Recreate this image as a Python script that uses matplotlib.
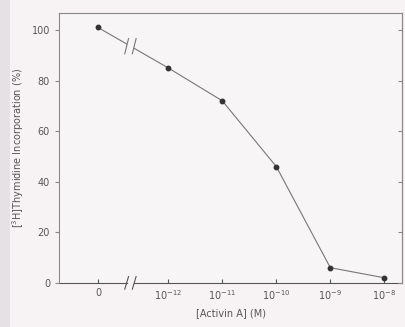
import numpy as np
import matplotlib.pyplot as plt

# Activin A concentrations (M); 0 = control without activin
conc = [0, 1e-12, 1e-11, 1e-10, 1e-9, 1e-8]
incorporation = [101, 85, 72, 46, 6, 2]
tick_labels = ['0', r'$10^{-12}$', r'$10^{-11}$', r'$10^{-10}$', r'$10^{-9}$', r'$10^{-8}$']
y_ticks = [0, 20, 40, 60, 80, 100]

# position of the zero point on the log axis (left of the break)
zero_pos = -13.3
break_pos = -12.7
xpos = [zero_pos if c == 0 else np.log10(c) for c in conc]

ink = '#555555'
frame = '#888888'
plt.rcParams['font.family'] = 'DejaVu Sans'
plt.rcParams['font.size'] = 7

fig = plt.figure(figsize=(4.05, 3.27), dpi=100, facecolor='#f7f3f5')
# grey strip along the left edge
strip = fig.add_axes([0, 0, 0.025, 1], zorder=-1)
strip.axis('off')
strip.add_patch(plt.Rectangle((0, 0), 1, 1, color='#e4e2e4', transform=strip.transAxes))

ax = fig.add_axes([0.146, 0.135, 0.847, 0.825])
ax.set_facecolor('#f8f5f7')

ax.set_xlim(-14.02, -7.67)
ax.set_ylim(0, 106.7)

# curve, with a break between the control point and the first dose
x0, x1 = xpos[0], xpos[1]
y0, y1 = incorporation[0], incorporation[1]
gap = 0.07
yb0 = y0 + (y1 - y0) * (break_pos - gap - x0) / (x1 - x0)
yb1 = y0 + (y1 - y0) * (break_pos + gap - x0) / (x1 - x0)
ax.plot([x0, break_pos - gap], [y0, yb0], color='#777777', lw=0.8)
ax.plot([break_pos + gap, x1], [yb1, y1], color='#777777', lw=0.8)
ax.plot(xpos[1:], incorporation[1:], color='#777777', lw=0.8)
ax.plot(xpos, incorporation, ls='none', marker='o', ms=3.2, color='#333333')
ym = (yb0 + yb1) / 2
for dx in (-gap, gap):
    ax.plot([break_pos + dx - 0.035, break_pos + dx + 0.035], [ym - 3, ym + 3],
            color='#777777', lw=0.8)

# axis break on the x axis
ax.spines['bottom'].set_visible(False)
ax.plot([-14.02, break_pos - gap], [0, 0], color=ink, lw=0.8, clip_on=False)
ax.plot([break_pos + gap, -7.67], [0, 0], color=ink, lw=0.8, clip_on=False)
for dx in (-gap, gap):
    ax.plot([break_pos + dx - 0.035, break_pos + dx + 0.035], [-2.5, 2.5],
            color=ink, lw=0.8, clip_on=False)

for s in ['left', 'top', 'right']:
    ax.spines[s].set_color(frame)
    ax.spines[s].set_linewidth(0.8)

ax.set_xticks(xpos)
ax.set_xticklabels(tick_labels)
ax.set_yticks(y_ticks)
ax.tick_params(axis='x', direction='in', length=3, color=ink, labelcolor=ink, pad=4)
ax.tick_params(axis='y', direction='out', length=3, color=frame, labelcolor=ink)

# inward ticks on the right frame
axr = ax.twinx()
axr.set_ylim(ax.get_ylim())
axr.set_yticks(y_ticks)
axr.tick_params(axis='y', direction='in', length=3, color=frame, labelright=False)
for s in ['left', 'top', 'bottom']:
    axr.spines[s].set_visible(False)
axr.spines['right'].set_color(frame)
axr.spines['right'].set_linewidth(0.8)

ax.set_xlabel('[Activin A] (M)', color=ink, labelpad=4)
ax.set_ylabel(r'[$^3$H]Thymidine Incorporation (%)', color=ink, labelpad=4)

fig.savefig('out.png', dpi=100, facecolor=fig.get_facecolor())
